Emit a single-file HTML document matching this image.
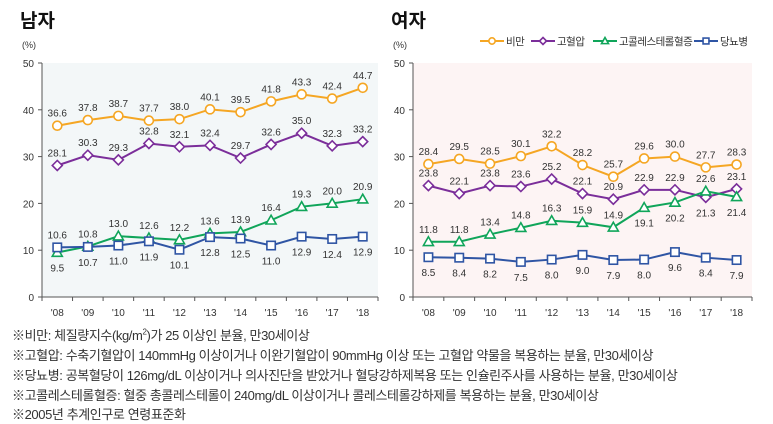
<!DOCTYPE html>
<html><head><meta charset="utf-8"><style>
body{margin:0;background:#fff;width:773px;height:424px;overflow:hidden;font-family:"Liberation Sans","Noto Sans CJK KR",sans-serif}
svg{position:absolute;left:0;top:0}
.fn{position:absolute;left:12px;font-size:13px;color:#333;white-space:nowrap;letter-spacing:-0.4px}
</style></head><body>
<svg id="c" width="773" height="424"></svg>
<div class="fn" style="top:325px">※비만: 체질량지수(kg/m<sup style="font-size:8px">2</sup>)가 25 이상인 분율, 만30세이상</div>
<div class="fn" style="top:345px">※고혈압: 수축기혈압이 140mmHg 이상이거나 이완기혈압이 90mmHg 이상 또는 고혈압 약물을 복용하는 분율, 만30세이상</div>
<div class="fn" style="top:365px">※당뇨병: 공복혈당이 126mg/dL 이상이거나 의사진단을 받았거나 혈당강하제복용 또는 인슐린주사를 사용하는 분율, 만30세이상</div>
<div class="fn" style="top:385px">※고콜레스테롤혈증: 혈중 총콜레스테롤이 240mg/dL 이상이거나 콜레스테롤강하제를 복용하는 분율, 만30세이상</div>
<div class="fn" style="top:404px">※2005년 추계인구로 연령표준화</div>
<script>
const years=["'08","'09","'10","'11","'12","'13","'14","'15","'16","'17","'18"];
const yTicks=[0,10,20,30,40,50];
const maleObesity=[36.6,37.8,38.7,37.7,38.0,40.1,39.5,41.8,43.3,42.4,44.7];
const maleHyper=[28.1,30.3,29.3,32.8,32.1,32.4,29.7,32.6,35.0,32.3,33.2];
const maleChol=[9.5,10.8,13.0,12.6,12.2,13.6,13.9,16.4,19.3,20.0,20.9];
const maleDiab=[10.6,10.7,11.0,11.9,10.1,12.8,12.5,11.0,12.9,12.4,12.9];
const femObesity=[28.4,29.5,28.5,30.1,32.2,28.2,25.7,29.6,30.0,27.7,28.3];
const femHyper=[23.8,22.1,23.8,23.6,25.2,22.1,20.9,22.9,22.9,21.3,23.1];
const femChol=[11.8,11.8,13.4,14.8,16.3,15.9,14.9,19.1,20.2,22.6,21.4];
const femDiab=[8.5,8.4,8.2,7.5,8.0,9.0,7.9,8.0,9.6,8.4,7.9];
const seriesNames=["비만","고혈압","고콜레스테롤혈증","당뇨병"];
const colors=["#f5a623","#7b2e9a","#10a55a","#2f55a4"];
const shapes=["circle","diamond","triangle","square"];
const NS="http://www.w3.org/2000/svg";
const svg=document.getElementById('c');
function el(t,a,p){const e=document.createElementNS(NS,t);for(const k in a)e.setAttribute(k,a[k]);(p||svg).appendChild(e);return e;}
function marker(g,shape,x,y,col,s){
 if(shape=="circle")return el('circle',{cx:x,cy:y,r:4.5*s,fill:'#fff',stroke:col,'stroke-width':1.6},g);
 if(shape=="diamond"){const r=5*s;return el('polygon',{points:`${x},${y-r} ${x+r},${y} ${x},${y+r} ${x-r},${y}`,fill:'#fff',stroke:col,'stroke-width':1.6},g);}
 if(shape=="triangle"){const r=5*s;return el('polygon',{points:`${x},${y-r} ${x+r},${y+r*0.75} ${x-r},${y+r*0.75}`,fill:'#fff',stroke:col,'stroke-width':1.6},g);}
 const r=4.2*s;return el('rect',{x:x-r,y:y-r,width:2*r,height:2*r,fill:'#fff',stroke:col,'stroke-width':1.6},g);
}
function chart(name,x0,x1,bg,data,below,title){
 const y0=297,y1=63;
 const g=el('g',{});
 
 
 const ys=v=>y0-(v/50)*(y0-y1);
 const bw=(x1-x0)/years.length;
 const xs=i=>x0+bw*(i+0.5);
 el('rect',{x:x0,y:y1,width:x1-x0,height:y0-y1,fill:bg},g);
 const t=el('text',{x:x0-22,y:27,'font-size':19,'font-weight':'bold',fill:'#111'},g);t.textContent=title;
 
 
 const u=el('text',{x:x0-20,y:48,'font-size':9,fill:'#333'},g);u.textContent='(%)';
 
 
 el('line',{x1:x0,y1:y1,x2:x0,y2:y0,stroke:'#555'},g);
 el('line',{x1:x0,y1:y0,x2:x1,y2:y0,stroke:'#555'},g);
 yTicks.forEach(v=>{el('line',{x1:x0-4,y1:ys(v),x2:x0,y2:ys(v),stroke:'#555'},g);
  const tt=el('text',{x:x0-8,y:ys(v)+4,'font-size':10,'text-anchor':'end',fill:'#333'},g);tt.textContent=v;
  
  });
 for(let i=0;i<=years.length;i++)el('line',{x1:x0+bw*i,y1:y0,x2:x0+bw*i,y2:y0+4,stroke:'#555'},g);
 years.forEach((yr,i)=>{const tt=el('text',{x:xs(i),y:y0+19,'font-size':10,'text-anchor':'middle',fill:'#333'},g);tt.textContent=yr;
  
  });
 data.forEach((arr,si)=>{
  const sg=el('g',{},g);
  
  
  el('polyline',{points:arr.map((v,i)=>xs(i)+','+ys(v)).join(' '),fill:'none',stroke:colors[si],'stroke-width':2},sg);
  arr.forEach((v,i)=>{const m=marker(sg,shapes[si],xs(i),ys(v),colors[si],1);
   
   
   const b=below[si][i];
   const lt=el('text',{x:xs(i),y:ys(v)+(b?19:-9),'font-size':10,'text-anchor':'middle',fill:'#333'},sg);lt.textContent=v.toFixed(1);
   
   });
 });
}
const mBelow=[[0,0,0,0,0,0,0,0,0,0,0],[0,0,0,0,0,0,0,0,0,0,0],[1,0,0,0,0,0,0,0,0,0,0],[0,1,1,1,1,1,1,1,1,1,1]];
const fBelow=[[0,0,0,0,0,0,0,0,0,0,0],[0,0,0,0,0,0,0,0,0,1,0],[0,0,0,0,0,0,0,1,1,0,1],[1,1,1,1,1,1,1,1,1,1,1]];
chart('male-chart',42,378,'#f3f7f8',[maleObesity,maleHyper,maleChol,maleDiab],mBelow,'남자');
chart('female-chart',413,752,'#fdf4f4',[femObesity,femHyper,femChol,femDiab],fBelow,'여자');
// legend
const lx=[492,543,605,706];
seriesNames.forEach((n,i)=>{const g=el('g',{});
 
 
 el('line',{x1:lx[i]-12,y1:41,x2:lx[i]+12,y2:41,stroke:colors[i],'stroke-width':2},g);
 marker(g,shapes[i],lx[i],41,colors[i],0.7);
 const t=el('text',{x:lx[i]+14,y:45,'font-size':10.5,'letter-spacing':-0.5,fill:'#333'},g);t.textContent=n;});
</script>
</body></html>
